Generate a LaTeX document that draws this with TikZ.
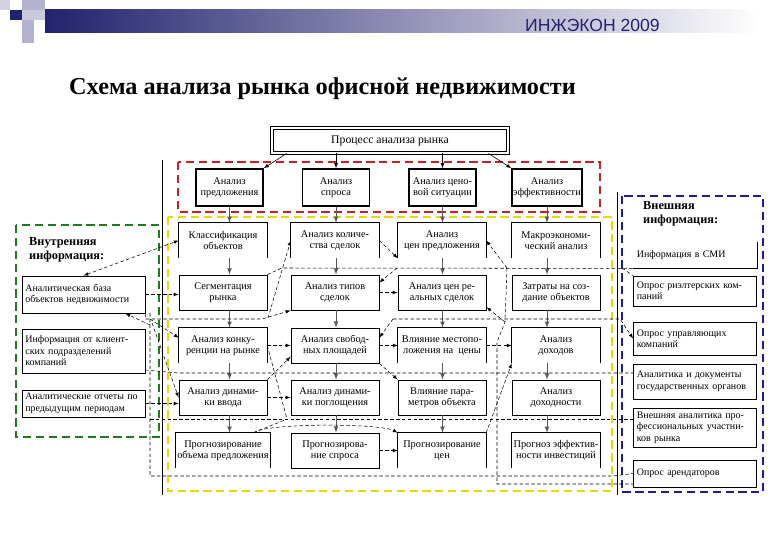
\documentclass[tikz,border=0pt]{standalone}
\usepackage{fontspec}
\setmainfont{Liberation Serif}
\newfontfamily\brandfont{Liberation Sans}
\usepackage{xcolor}
\usepackage{tikz}

\definecolor{navy}{HTML}{22226E}
\definecolor{lavender}{HTML}{B4B4D2}
\definecolor{zoneRed}{HTML}{CC1F1F}
\definecolor{zoneGreen}{HTML}{1E7B1E}
\definecolor{zoneBlue}{HTML}{1C1C9C}
\definecolor{zoneYellow}{HTML}{E8DA00}

\newcommand{\boxfont}{\fontsize{8.8}{9.8}\selectfont}
\newcommand{\infofont}{\fontsize{8.5}{9.8}\selectfont}
\newcommand{\opencell}[1]{\draw[boxline] (#1.south west) |- (#1.north east) -- (#1.south east);}

\tikzset{
  boxline/.style={line width=0.7pt},
  cell/.style={minimum width=2.64cm, minimum height=1.05cm, inner sep=1pt, align=center, font=\boxfont},
  cellbox/.style={cell, draw, boxline},
  topcell/.style={draw, line width=1.3pt, minimum width=2.01cm, minimum height=1.11cm, inner sep=1pt, align=center, font=\boxfont},
  infobox/.style={draw, boxline, text width=3.49cm, inner xsep=0.1cm, inner ysep=1pt, align=left, font=\infofont},
  infohead/.style={anchor=north west, inner sep=0pt, align=left, font=\fontsize{10.5}{12}\selectfont\bfseries},
  zone/.style={line width=1.6pt, dash pattern=on 7pt off 4pt},
  flow/.style={->, >=latex, draw=black!65, line width=0.8pt},
  link/.style={densely dashed, line width=0.45pt, >=latex},
}

\begin{document}
\begin{tikzpicture}[x=0.03cm, y=-0.03cm]
  \useasboundingbox (0,0) rectangle (780,540);
  % slide header
  \shade[left color=navy, right color=white] (45,10) rectangle (760,33);
  \fill[lavender!60] (0,0) rectangle (10,10);
  \fill[navy] (10,10) rectangle (22,20);
  \fill[lavender] (22,0) rectangle (45,10);
  \fill[lavender] (22,20) rectangle (34,43);
  \fill[lavender!70] (22,10) rectangle (45,20);
  \node[anchor=east, inner sep=0pt, text=navy, font=\brandfont\fontsize{15}{15}\selectfont] (brand) at (660,25) {ИНЖЭКОН 2009};
  \node[anchor=base west, inner sep=0pt, font=\fontsize{20.7}{22}\selectfont\bfseries] (title) at (69,95) {Схема анализа рынка офисной недвижимости};

  % coloured zones and the two rules
  \draw[zone, zoneRed] (178,162) rectangle (600,212);
  \draw[zone, zoneYellow] (168,217) rectangle (612,491);
  \draw[zone, zoneGreen] (16,225) rectangle (159,437);
  \draw[zone, zoneBlue] (622,196) rectangle (763,492);
  \draw[boxline] (162,160) -- (162,495);
  \draw[boxline] (617,192) -- (617,495);

  % process and the four analyses
  \node[draw, double, double distance=1pt, line width=0.8pt, minimum width=7.08cm, minimum height=0.75cm, font=\fontsize{10}{12}\selectfont] (proc) at (390,140.5) {Процесс анализа рынка};
  \node[topcell] (r1c1) at (229.5,187.5) {Анализ\\предложения};
  \node[topcell] (r1c2) at (336,187.5) {Анализ\\спроса};
  \node[topcell] (r1c3) at (442.5,187.5) {Анализ цено-\\вой ситуации};
  \node[topcell] (r1c4) at (547,187.5) {Анализ\\эффективности};

  % grid of steps
  \node[cell] (r2c1) at (223,240.5) {Классификация\\объектов};
  \node[cell] (r2c2) at (335,240.5) {Анализ количе-\\ства сделок};
  \node[cell] (r2c3) at (442,240.5) {Анализ\\цен предложения};
  \node[cell] (r2c4) at (556,240.5) {Макроэкономи-\\ческий анализ};
  \node[cellbox] (r3c1) at (223,292.5) {Сегментация\\рынка};
  \node[cellbox] (r3c2) at (335,292.5) {Анализ типов\\сделок};
  \node[cellbox] (r3c3) at (442,292.5) {Анализ цен ре-\\альных сделок};
  \node[cellbox] (r3c4) at (556,292.5) {Затраты на соз-\\дание объектов};
  \node[cell] (r4c1) at (223,345.5) {Анализ конку-\\ренции на рынке};
  \node[cellbox] (r4c2) at (335,345.5) {Анализ свобод-\\ных площадей};
  \node[cell] (r4c3) at (442,345.5) {Влияние местопо-\\ложения на~~цены};
  \node[cell] (r4c4) at (556,345.5) {Анализ\\доходов};
  \node[cellbox] (r5c1) at (223,397.5) {Анализ динами-\\ки ввода};
  \node[cellbox] (r5c2) at (335,397.5) {Анализ динами-\\ки поглощения};
  \node[cellbox] (r5c3) at (442,397.5) {Влияние пара-\\метров объекта};
  \node[cellbox] (r5c4) at (556,397.5) {Анализ\\доходности};
  \node[cell] (r6c1) at (223,450.5) {Прогнозирование\\объема предложения};
  \node[cellbox] (r6c2) at (335,450.5) {Прогнозирова-\\ние спроса};
  \node[cell] (r6c3) at (442,450.5) {Прогнозирование\\цен};
  \node[cell] (r6c4) at (556,450.5) {Прогноз эффектив-\\ности инвестиций};
  \foreach \name in {r2c1,r2c2,r2c3,r2c4,r4c1,r4c3,r4c4,r6c1,r6c3,r6c4} {
    \opencell{\name}
  }

  % internal information
  \node[infohead] (inner) at (29,237) {Внутренняя\\информация:};
  \node[infobox, minimum height=1.11cm] (lb1) at (83.5,294.5) {Аналитическая база\\объектов недвижимости};
  \node[infobox, minimum height=1.32cm] (lb2) at (83.5,351) {Информация от клиент-\\ских подразделений\\компаний};
  \node[infobox, minimum height=0.81cm] (lb3) at (83.5,403.5) {Аналитические отчеты по\\предыдущим периодам};

  % external information
  \node[infohead] (outer) at (643,201) {Внешняя\\информация:};
  \node[infobox, draw=none, minimum height=0.78cm] (rb1) at (695,255) {Информация в СМИ};
  \draw[boxline] (rb1.north east) -- (rb1.south east) -- (rb1.south west);
  \node[infobox, minimum height=0.9cm] (rb2) at (695,291) {Опрос риэлтерских ком-\\паний};
  \node[infobox, minimum height=0.99cm] (rb3) at (695,338.5) {Опрос управляющих\\компаний};
  \node[infobox, minimum height=1.05cm] (rb4) at (695,381.5) {Аналитика и документы\\государственных органов};
  \node[infobox, minimum height=1.17cm] (rb5) at (695,427.5) {Внешняя аналитика про-\\фессиональных участни-\\ков рынка};
  \node[infobox, minimum height=0.81cm] (rb6) at (695,473.5) {Опрос арендаторов};

  % from the process to the analyses
  \draw[->, >=latex, line width=0.5pt] ([xshift=0.45cm]proc.south west) -- (r1c1.north east);
  \draw[->, >=latex, line width=0.5pt] (proc.south -| r1c2) -- (r1c2.north);
  \draw[->, >=latex, line width=0.5pt] (proc.south -| r1c3) -- (r1c3.north);
  \draw[->, >=latex, line width=0.5pt] ([xshift=-0.6cm]proc.south east) -- (r1c4.north west);

  % down each column
  \foreach \col in {1,...,4} {
    \draw[flow] (r1c\col.south) -- (r1c\col.south |- r2c\col.north);
    \foreach \row/\nxt in {2/3,3/4,4/5,5/6}
      \draw[flow] (r\row c\col.south -| r1c\col) -- (r\nxt c\col.north -| r1c\col);
  }

  % dashed information lines
  \draw[link, <->] (lb1.north) -- (r2c1.west);
  \draw[link, ->] (lb1.east) -- (lb1.east -| r3c1.west);
  \draw[link, ->] (lb3.east) -- (lb3.east -| r5c1.west);
  \draw[link, ->] (150,325) -- ([xshift=-0.6cm]lb1.south east);
  \draw[link, ->] (150,319) -- ([yshift=-0.3cm]r4c1.north west);
  \draw[link, ->] (152,323) -- (r5c1.west);
  \draw[link] (150,313) -- (150,476) -- (613,476) -- (rb6.west);
  \draw[link, ->] (lb1.south east) |- (262,319) -- (r3c2.south west);
  \draw[link, ->] (268,318) -- (r2c2.west);
  \draw[link] (r3c1.north east) -- (282,268) -- (rb1.south west);
  \draw[link] (622,268) -- (rb2.north west);
  \draw[link] (145,370) -- (179,373) -- (633,373);
  \draw[link] (150,419) -- (633,419);
  \draw[link] ([xshift=-0.5cm]r6c1.north east) -- (287,419);
  \draw[link] (r4c1.east) -- (287,419);
  \draw[link, ->] ([xshift=-0.5cm]r6c1.north east) .. controls (265,423) and (380,423) .. (r6c3.north west);
  \draw[link, ->] (r4c1.east) -- (r4c1.east -| r4c2.west);
  \draw[link, ->] (r5c1.north east) -- ([yshift=0.2cm]r4c2.south west);
  \draw[link, ->] (r5c1.east) -- (r5c2.west);
  \draw[link, ->] (r2c2.east) -- (r2c3.south west);
  \draw[link, ->] (397,268) -- ([yshift=0.3cm]r3c2.east);
  \draw[link, ->] (r3c2.east) -- (r3c3.west);
  \draw[link, ->] (393,319) -- ([yshift=-0.3cm]r4c2.north east);
  \draw[link, ->] (393,319) -- (620,319) -- (rb3.west);
  \draw[link, ->] (r4c2.east) -- (r4c3.west);
  \draw[link, ->] (r4c2.south east) -- (r5c3.north west);
  \draw[link, ->] (r6c2.east) -- (r6c3.west);
  \draw[link, ->] (r4c3.east) -- (r4c4.west);
  \draw[link, ->] (r6c3.north east) -- (r4c4.south west);
  \draw[link, ->] (507,268) -- (r2c3.east);
  \draw[link] (507,268) -- (505,322) -- (497,342) -- (497,484) -- (633,484);
  \draw[link, ->] (505,322) -- ([yshift=0.1cm]r3c3.south east);
\end{tikzpicture}
\end{document}
